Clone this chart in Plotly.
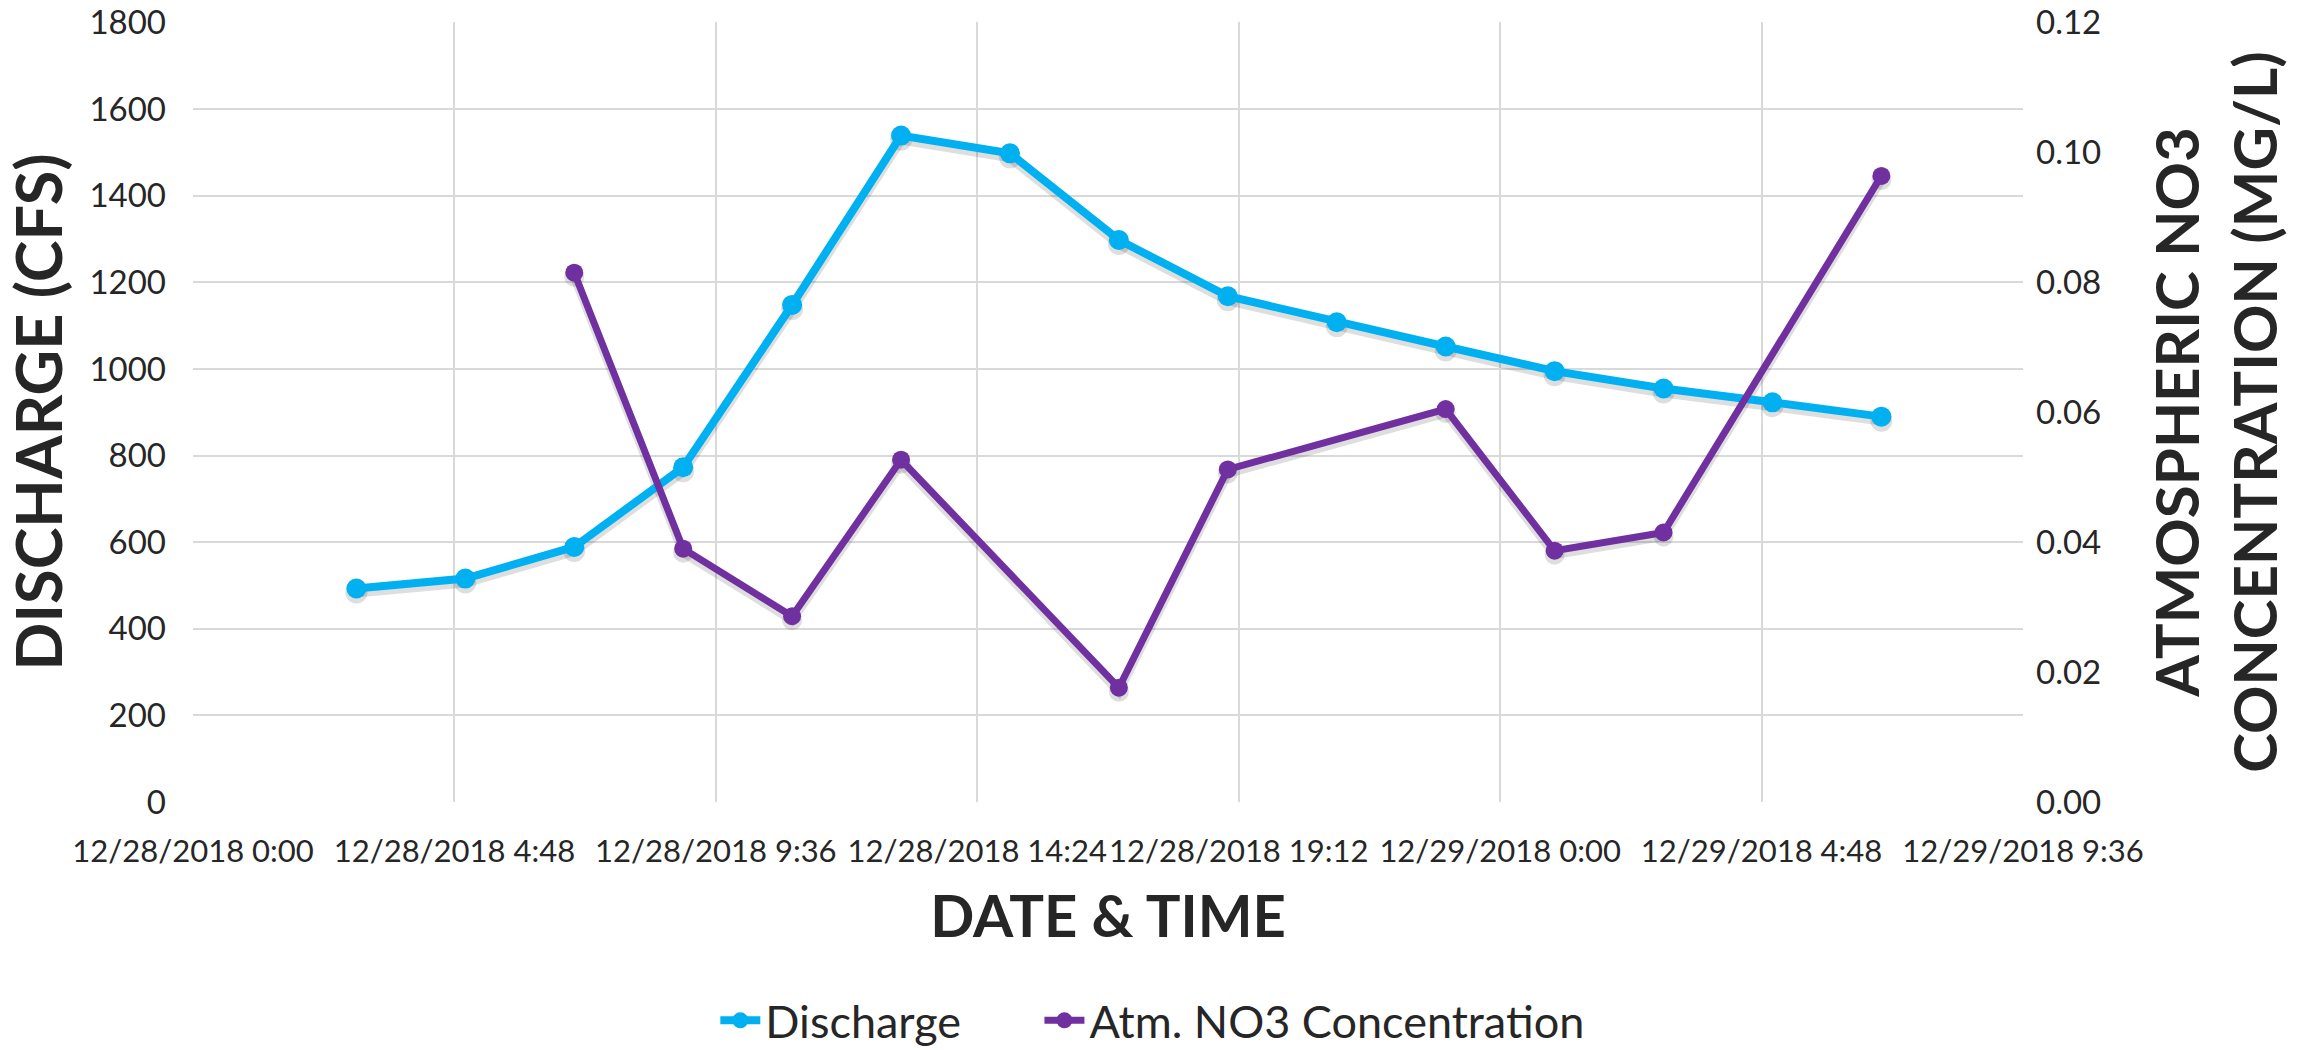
import plotly.graph_objects as go

# Discharge readings (cfs), every two hours
discharge_times = [
    "2018-12-28 03:00", "2018-12-28 05:00", "2018-12-28 07:00", "2018-12-28 09:00",
    "2018-12-28 11:00", "2018-12-28 13:00", "2018-12-28 15:00", "2018-12-28 17:00",
    "2018-12-28 19:00", "2018-12-28 21:00", "2018-12-28 23:00", "2018-12-29 01:00",
    "2018-12-29 03:00", "2018-12-29 05:00", "2018-12-29 07:00",
]
discharge_cfs = [493, 516, 589, 773, 1148, 1539, 1498, 1298, 1168, 1108, 1052, 995, 955, 923, 890]

# Atmospheric NO3 concentration samples (mg/L)
no3_times = [
    "2018-12-28 07:00", "2018-12-28 09:00", "2018-12-28 11:00", "2018-12-28 13:00",
    "2018-12-28 17:00", "2018-12-28 19:00", "2018-12-28 23:00", "2018-12-29 01:00",
    "2018-12-29 03:00", "2018-12-29 07:00",
]
no3_mgl = [0.0815, 0.039, 0.0286, 0.0527, 0.0176, 0.0512, 0.0605, 0.0387, 0.0415, 0.0964]

# Date axis ticks every 4.8 hours
x_tick_vals = [
    "2018-12-28 00:00", "2018-12-28 04:48", "2018-12-28 09:36", "2018-12-28 14:24",
    "2018-12-28 19:12", "2018-12-29 00:00", "2018-12-29 04:48", "2018-12-29 09:36",
]
x_tick_text = [
    "12/28/2018 0:00", "12/28/2018 4:48", "12/28/2018 9:36", "12/28/2018 14:24",
    "12/28/2018 19:12", "12/29/2018 0:00", "12/29/2018 4:48", "12/29/2018 9:36",
]
discharge_ticks = [0, 200, 400, 600, 800, 1000, 1200, 1400, 1600, 1800]
no3_ticks = [0.0, 0.02, 0.04, 0.06, 0.08, 0.10, 0.12]

BLUE = "#00B0F0"
PURPLE = "#7030A0"
SHADOW = "rgba(0,0,0,0.13)"
TEXT = "#262626"
GRID = "#D9D9D9"
FONT = "Lato"

W, H = 2315, 1050
M_L, M_R, M_T, M_B = 193, 292, 22, 248
plot_h = H - M_T - M_B
SHADOW_DROP = 4  # px the drop shadow sits below each line
TOP_PAD = 0.6    # px of headroom so the top gridline stays inside the plot

q_max = discharge_ticks[-1]
c_max = no3_ticks[-1]
q_px = q_max / plot_h
c_px = c_max / plot_h

fig = go.Figure()

# soft drop shadows underneath the series
fig.add_trace(go.Scatter(
    x=discharge_times, y=discharge_cfs, mode="lines+markers", showlegend=False,
    hoverinfo="skip", line=dict(color=SHADOW, width=10), marker=dict(color=SHADOW, size=22),
    yaxis="y",
))
fig.add_trace(go.Scatter(
    x=no3_times, y=no3_mgl, mode="lines+markers", showlegend=False,
    hoverinfo="skip", line=dict(color=SHADOW, width=9), marker=dict(color=SHADOW, size=20),
    yaxis="y2",
))

fig.add_trace(go.Scatter(
    x=discharge_times, y=discharge_cfs, name="Discharge",
    mode="lines+markers",
    line=dict(color=BLUE, width=8),
    marker=dict(color=BLUE, size=20),
    yaxis="y3", legend="legend",
))
fig.add_trace(go.Scatter(
    x=no3_times, y=no3_mgl, name="Atm. NO3 Concentration",
    mode="lines+markers",
    line=dict(color=PURPLE, width=7),
    marker=dict(color=PURPLE, size=18),
    yaxis="y4", legend="legend2",
))

hidden = dict(visible=False, showgrid=False, zeroline=False, automargin=False)
legend_common = dict(
    orientation="h", xref="container", yref="container",
    xanchor="left", y=0.028, yanchor="middle",
    font=dict(size=45, color=TEXT), itemwidth=40,
)

fig.update_layout(
    width=W, height=H,
    margin=dict(l=M_L, r=M_R, t=M_T, b=M_B, autoexpand=False),
    paper_bgcolor="white", plot_bgcolor="white",
    font=dict(family=FONT, color=TEXT, size=33),
    showlegend=True,
    legend=dict(x=0.309, **legend_common),
    legend2=dict(x=0.449, **legend_common),
    xaxis=dict(
        type="date", automargin=False,
        range=[x_tick_vals[0], x_tick_vals[-1]],
        tickmode="array", tickvals=x_tick_vals, ticktext=x_tick_text,
        tickangle=0, showgrid=True, gridcolor=GRID, gridwidth=1.5,
        zeroline=False, showline=False, ticks="",
        ticklabelstandoff=28, ticklabeloverflow="allow",
        tickfont=dict(size=31, color=TEXT),
        title=dict(text="<b>DATE &amp; TIME</b>", font=dict(size=58, color=TEXT), standoff=28),
    ),
    yaxis=dict(range=[SHADOW_DROP * q_px, q_max + (SHADOW_DROP + TOP_PAD) * q_px], **hidden),
    yaxis2=dict(overlaying="y", range=[SHADOW_DROP * c_px, c_max + (SHADOW_DROP + TOP_PAD) * c_px], **hidden),
    yaxis3=dict(
        overlaying="y", side="left", automargin=False,
        range=[0, q_max + TOP_PAD * q_px],
        tickmode="array", tickvals=discharge_ticks,
        showgrid=True, gridcolor=GRID, gridwidth=1.5,
        zeroline=False, showline=False, ticks="",
        ticklabelstandoff=26, ticklabeloverflow="allow",
        tickfont=dict(size=33, color=TEXT),
        title=dict(text="<b>DISCHARGE (CFS)</b>", font=dict(size=63, color=TEXT), standoff=18),
    ),
    yaxis4=dict(
        overlaying="y", side="right", automargin=False,
        range=[0, c_max + TOP_PAD * c_px],
        tickmode="array", tickvals=no3_ticks, tickformat=".2f",
        showgrid=False, zeroline=False, showline=False, ticks="",
        ticklabelstandoff=12, ticklabeloverflow="allow",
        tickfont=dict(size=33, color=TEXT),
        title=dict(text="<b>ATMOSPHERIC NO3<br>CONCENTRATION (MG/L)</b>",
                   font=dict(size=60, color=TEXT), standoff=56),
    ),
)

fig.write_html("out.html")
